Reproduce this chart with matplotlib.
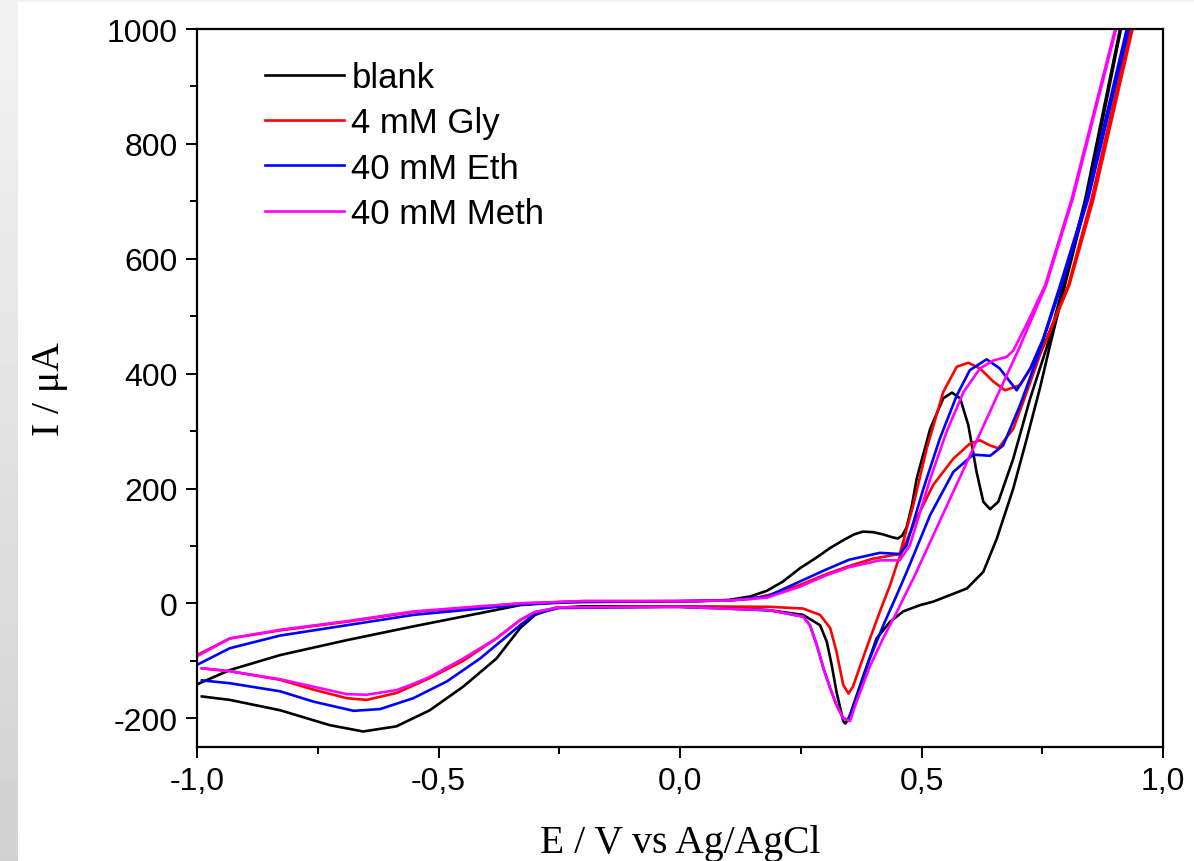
import numpy as np
import matplotlib
matplotlib.use("Agg")
import matplotlib.pyplot as plt
from matplotlib.ticker import MultipleLocator, FuncFormatter

# legendas
labels = ["blank", "4 mM Gly", "40 mM Eth", "40 mM Meth"]
cores = ["#000000", "#ff0000", "#0000ff", "#ff00ff"]

# blank - varredura direta (E em V, I em uA)
blank_ida_E = [-1.0, -0.932, -0.828, -0.69, -0.552, -0.414, -0.331, -0.25, -0.1, 0.04, 0.10, 0.145,
               0.18, 0.213, 0.248, 0.283, 0.31, 0.338, 0.36, 0.379, 0.40, 0.421, 0.44, 0.451, 0.46,
               0.469, 0.48, 0.49, 0.518, 0.545, 0.563, 0.58, 0.597, 0.614, 0.628, 0.642, 0.659,
               0.69, 0.725, 0.759, 0.794, 0.839, 0.911, 0.95]
blank_ida_I = [-141, -116, -90, -64, -40, -17, -3, 2, 3, 4, 6, 12,
               22, 38, 61, 80, 96, 110, 120, 125, 124, 120, 115, 113, 118,
               132, 170, 217, 304, 357, 367, 357, 310, 229, 177, 164, 177,
               252, 357, 445, 554, 704, 1000, 1160]
# blank - varredura reversa
blank_volta_E = [0.95, 0.913, 0.842, 0.797, 0.766, 0.745, 0.718, 0.69, 0.656, 0.628, 0.594, 0.524,
                 0.497, 0.462, 0.435, 0.407, 0.38, 0.352, 0.346, 0.342, 0.338, 0.335, 0.324, 0.314,
                 0.304, 0.29, 0.255, 0.186, 0.1, 0.0, -0.1, -0.2, -0.26, -0.3, -0.331, -0.38,
                 -0.449, -0.518, -0.587, -0.656, -0.725, -0.828, -0.932, -0.99]
blank_volta_I = [1150, 1000, 704, 554, 449, 374, 287, 200, 113, 55, 26, 3,
                 -3, -14, -32, -61, -125, -194, -205, -209, -205, -194, -154, -107,
                 -67, -38, -20, -12, -8, -6, -5, -5, -8, -20, -43, -96,
                 -145, -186, -214, -223, -212, -186, -168, -162]

# 4 mM Gly
gly_ida_E = [-1.0, -0.932, -0.828, -0.69, -0.552, -0.414, -0.331, -0.2, 0.0, 0.1, 0.15, 0.2,
             0.248, 0.3, 0.35, 0.4, 0.455, 0.483, 0.511, 0.545, 0.573, 0.597, 0.621, 0.649,
             0.673, 0.704, 0.739, 0.759, 0.804, 0.852, 0.933, 0.97]
gly_ida_I = [-90, -61, -47, -32, -15, -6, 0, 4, 4, 5, 8, 18,
             32, 50, 65, 78, 86, 171, 270, 368, 412, 419, 409, 386,
             371, 380, 426, 461, 554, 704, 1000, 1140]
gly_volta_E = [0.97, 0.937, 0.856, 0.806, 0.745, 0.718, 0.69, 0.659, 0.642, 0.621, 0.6, 0.566,
               0.524, 0.483, 0.451, 0.435, 0.414, 0.386, 0.358, 0.349, 0.338, 0.324, 0.311, 0.29,
               0.255, 0.186, 0.0, -0.25, -0.3, -0.331, -0.38, -0.449, -0.518, -0.587, -0.649,
               -0.69, -0.759, -0.828, -0.932, -0.99]
gly_volta_I = [1140, 1000, 704, 554, 432, 368, 304, 270, 275, 284, 278, 252,
               206, 136, 73, 32, -14, -78, -145, -157, -142, -84, -43, -20,
               -9, -6, -5, -7, -15, -29, -61, -100, -130, -156, -168,
               -165, -150, -133, -118, -113]

# 40 mM Eth
eth_ida_E = [-1.0, -0.932, -0.828, -0.69, -0.552, -0.414, -0.331, -0.2, 0.0, 0.1, 0.18, 0.248,
             0.3, 0.35, 0.414, 0.455, 0.469, 0.504, 0.538, 0.573, 0.6, 0.635, 0.662, 0.697,
             0.725, 0.752, 0.787, 0.842, 0.925, 0.96]
eth_ida_I = [-107, -78, -56, -38, -20, -9, -2, 3, 4, 5, 12, 38,
             58, 76, 88, 86, 101, 200, 287, 362, 406, 425, 409, 371,
             409, 461, 554, 704, 1000, 1130]
eth_volta_E = [0.96, 0.929, 0.845, 0.79, 0.739, 0.704, 0.669, 0.642, 0.607, 0.566, 0.518, 0.472,
               0.449, 0.421, 0.393, 0.366, 0.349, 0.338, 0.324, 0.311, 0.297, 0.283, 0.269, 0.255,
               0.186, 0.0, -0.25, -0.3, -0.331, -0.414, -0.483, -0.552, -0.621, -0.676, -0.759,
               -0.828, -0.932, -0.99]
eth_volta_I = [1120, 1000, 704, 554, 426, 345, 275, 257, 259, 229, 154, 60,
               15, -38, -96, -165, -203, -200, -177, -148, -113, -72, -38, -23,
               -12, -6, -8, -18, -38, -96, -136, -165, -184, -187, -171,
               -153, -139, -134]

# 40 mM Meth
meth_ida_E = [-1.0, -0.932, -0.828, -0.69, -0.552, -0.414, -0.331, -0.2, 0.0, 0.1, 0.18, 0.248,
              0.3, 0.35, 0.414, 0.455, 0.476, 0.518, 0.552, 0.587, 0.621, 0.649, 0.676, 0.69,
              0.72, 0.756, 0.811, 0.901, 0.94]
meth_ida_I = [-92, -61, -46, -31, -14, -5, 0, 4, 4, 5, 10, 29,
              48, 63, 75, 75, 101, 217, 299, 368, 409, 423, 429, 440,
              490, 554, 704, 1000, 1130]
meth_volta_E = [0.94, 0.903, 0.813, 0.758, 0.70, 0.656, 0.587, 0.483, 0.475, 0.449, 0.421, 0.393,
                0.366, 0.352, 0.338, 0.324, 0.311, 0.297, 0.283, 0.269, 0.255, 0.186, 0.0, -0.25,
                -0.3, -0.331, -0.38, -0.449, -0.518, -0.552, -0.587, -0.649, -0.69, -0.759,
                -0.828, -0.932, -0.99]
meth_volta_I = [1130, 1000, 704, 554, 440, 360, 233, 43, 30, -15, -60, -110,
                -170, -205, -200, -177, -148, -113, -72, -38, -23, -12, -6, -7,
                -15, -29, -61, -96, -128, -140, -151, -159, -158, -145,
                -132, -118, -113]

curvas = [
    (blank_ida_E, blank_ida_I, blank_volta_E, blank_volta_I),
    (gly_ida_E, gly_ida_I, gly_volta_E, gly_volta_I),
    (eth_ida_E, eth_ida_I, eth_volta_E, eth_volta_I),
    (meth_ida_E, meth_ida_I, meth_volta_E, meth_volta_I),
]


def virgula(v, pos):
    return ("%.1f" % v).replace(".", ",")


def plota_voltametria():
    plt.rcParams["font.family"] = ["Liberation Sans", "DejaVu Sans"]
    plt.rcParams["axes.unicode_minus"] = False
    fig = plt.figure(figsize=(11.94, 8.62), dpi=100)

    # faixa cinza do slide a esquerda
    fundo = fig.add_axes([0, 0, 18 / 1194, 1])
    grad = np.linspace(0.95, 0.82, 256).reshape(-1, 1)
    fundo.imshow(grad, aspect="auto", cmap="gray", vmin=0, vmax=1)
    fundo.axis("off")
    faixa = fig.add_axes([0, 1 - 3 / 862, 1, 3 / 862])
    faixa.axis("off")
    faixa.add_patch(plt.Rectangle((0, 0), 1, 1, color="#f3f3f3", transform=faixa.transAxes))

    ax = fig.add_axes([197 / 1194, 1 - 748 / 862, 966 / 1194, 718 / 862])

    for (e1, i1, e2, i2), lab, cor in zip(curvas, labels, cores):
        E = list(e1) + list(e2)
        I = list(i1) + list(i2)
        ax.plot(E, I, color=cor, linewidth=1.9, label=lab, solid_joinstyle="round")

    ax.set_xlim(-1.0, 1.0)
    ax.set_ylim(-250, 1000)

    ax.xaxis.set_major_locator(MultipleLocator(0.5))
    ax.xaxis.set_minor_locator(MultipleLocator(0.25))
    ax.yaxis.set_major_locator(MultipleLocator(200))
    ax.yaxis.set_minor_locator(MultipleLocator(100))
    ax.xaxis.set_major_formatter(FuncFormatter(virgula))

    ax.tick_params(which="major", direction="out", length=8, width=1.4, labelsize=23, pad=6)
    ax.tick_params(which="minor", direction="out", length=5, width=1.4)
    for s in ax.spines.values():
        s.set_linewidth(1.6)

    # titulos dos eixos
    ax.set_xlabel("E / V vs Ag/AgCl", fontsize=28.5, family=["Liberation Serif", "DejaVu Serif"],
                  labelpad=20)
    ax.set_ylabel("I / \u03bcA", fontsize=28.5, family=["Liberation Serif", "DejaVu Serif"],
                  labelpad=28)

    ax.legend(loc="upper left", bbox_to_anchor=(0.070, 0.955), frameon=False, fontsize=25,
              handlelength=2.3, handletextpad=0.2, labelspacing=0.35, borderpad=0,
              borderaxespad=0)

    fig.savefig("out.png", dpi=100)


if __name__ == '__main__':
    plota_voltametria()
